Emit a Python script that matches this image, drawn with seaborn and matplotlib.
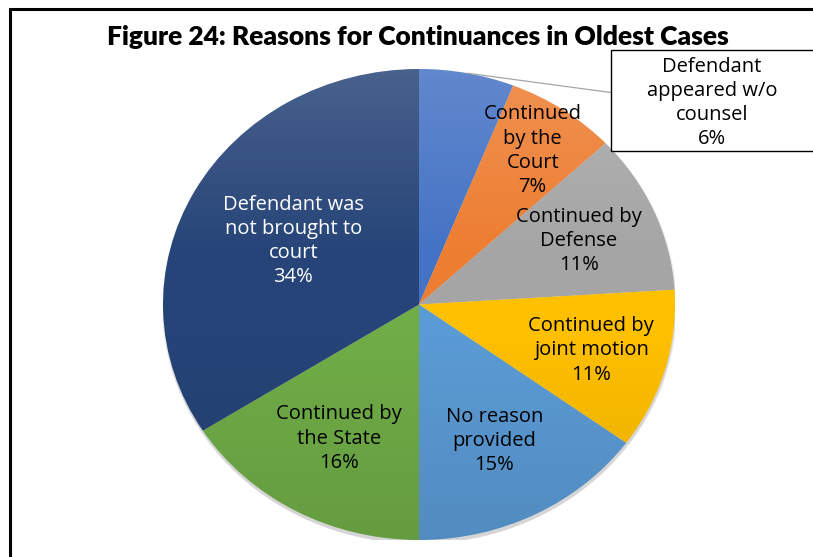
import numpy as np
import seaborn as sns
import matplotlib.pyplot as plt
from matplotlib.patches import Circle, Rectangle
from matplotlib.lines import Line2D

# slices, clockwise from 12 o'clock
labels = [
    "Defendant\nappeared w/o\ncounsel",
    "Continued\nby the\nCourt",
    "Continued by\nDefense",
    "Continued by\njoint motion",
    "No reason\nprovided",
    "Continued by\nthe State",
    "Defendant was\nnot brought to\ncourt",
]
shares = [6, 7, 11, 11, 15, 16, 34]
colors = ["#4472C4", "#ED7D31", "#A5A5A5", "#FFC000", "#5B9BD5", "#70AD47", "#264478"]
text_colors = ["black"] * 6 + ["white"]
# how far out (fraction of radius) each label sits
label_r = [None, 0.79, 0.68, 0.70, 0.65, 0.65, 0.56]


def set_config():
    sns.set_theme(style="white")
    plt.rcParams["font.family"] = ["Open Sans", "DejaVu Sans"]


def draw_pie():
    W, H = 813, 557
    fig = plt.figure(figsize=(W / 100, H / 100), dpi=100)
    fig.patch.set_facecolor("white")

    # pie sits in an ellipse: x 163..675, y 69..540 (pixels)
    ax = fig.add_axes([163 / W, 1 - 540 / H, 512 / W, 471 / H])
    ax.set_xlim(-1, 1)
    ax.set_ylim(-1, 1)

    # soft shadow under the pie
    for k, a in enumerate([0.08, 0.08, 0.10]):
        ax.add_patch(Circle((0.002, -0.010 - 0.003 * k), 1.0 + 0.003 * (2 - k),
                            facecolor="#555555", edgecolor="none", alpha=a, zorder=0))

    wedges, _ = ax.pie(shares, colors=colors, startangle=90, counterclock=False,
                       radius=1.0, labeldistance=None,
                       wedgeprops=dict(linewidth=0, edgecolor="none"))
    for w in wedges:
        w.set_zorder(1)
    ax.set_aspect("auto")
    ax.axis("off")

    # light top / darker bottom shading
    ys = np.linspace(1, -1, 200)
    grad = np.zeros((200, 2, 4))
    top = np.clip((ys - 0.2) / 0.8, 0, 1)
    bot = np.clip((-ys - 0.1) / 0.9, 0, 1)
    grad[:, :, :3] = np.where(top[:, None, None] > 0, 1.0, 0.0)
    grad[:, :, 3] = (0.16 * top + 0.10 * bot)[:, None]
    clip = Circle((0, 0), 1.0, transform=ax.transData)
    im = ax.imshow(grad, extent=(-1, 1, -1, 1), aspect="auto", zorder=2,
                   interpolation="bilinear")
    im.set_clip_path(clip)
    ax.set_xlim(-1, 1)
    ax.set_ylim(-1, 1)

    for w, lab, share, r, tc in zip(wedges, labels, shares, label_r, text_colors):
        mid = np.deg2rad((w.theta1 + w.theta2) / 2)
        if r is None:
            # callout box to the upper right
            bx0, by0, bx1, by1 = 0.75, 0.65, 1.555, 1.08
            ax.add_patch(Rectangle((bx0, by0), bx1 - bx0, by1 - by0, facecolor="white",
                                   edgecolor="black", linewidth=1.0, clip_on=False, zorder=5))
            ax.add_line(Line2D([np.cos(mid), bx0], [np.sin(mid), 0.90], color="#a6a6a6",
                               linewidth=0.9, clip_on=False, zorder=4))
            ax.text(1.145, 0.855, f"{lab}\n{share}%", ha="center", va="center",
                    fontsize=14.5, linespacing=1.28, color="black", zorder=6, clip_on=False)
            continue
        ax.text(r * np.cos(mid), r * np.sin(mid), f"{lab}\n{share}%", ha="center",
                va="center", fontsize=14.5, linespacing=1.28, color=tc, zorder=6)

    fig.text(418 / W, 1 - 37 / H, "Figure 24: Reasons for Continuances in Oldest Cases",
             ha="center", va="center", fontsize=19, fontweight="heavy",
             family=["Lato", "DejaVu Sans"], color="black")

    # frame lines (left and top only show)
    fig.add_artist(Line2D([10 / W, 10 / W], [0, 1 - 9 / H], color="black", linewidth=2.2))
    fig.add_artist(Line2D([10 / W, 1], [1 - 9 / H, 1 - 9 / H], color="black", linewidth=2.2))

    fig.savefig("out.png", dpi=100, facecolor="white")


def main():
    set_config()
    draw_pie()


if __name__ == "__main__":
    main()
